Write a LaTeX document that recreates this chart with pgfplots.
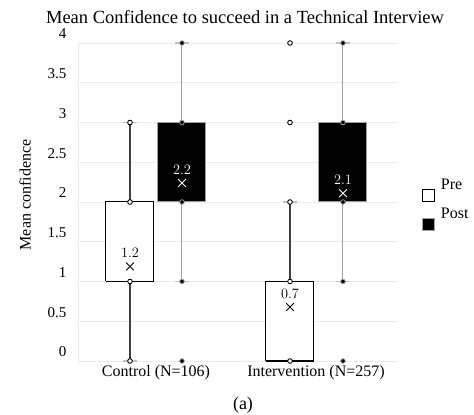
\documentclass[border=0pt]{standalone}
\usepackage{fontspec}
\setmainfont{Liberation Serif}
\usepackage{pgfplots}
\pgfplotsset{compat=1.18}
\definecolor{gridc}{HTML}{E8EDF4}
\definecolor{whiskpre}{HTML}{404040}
\definecolor{postgray}{HTML}{A0A0A0}
\definecolor{capc}{HTML}{C0C0C0}
\begin{document}
\begin{tikzpicture}
\begin{axis}[
  scale only axis, width=320bp, height=318bp,
  xmin=78, xmax=398, ymin=0, ymax=4,
  ytick={0,0.5,1,1.5,2,2.5,3,3.5,4},
  yticklabels={0,0.5,1,1.5,2,2.5,3,3.5,4},
  xtick={156,316},
  xticklabels={Control (N=106),Intervention (N=257)},
  ymajorgrids, grid style={draw=gridc, line width=0.9bp},
  axis x line*=bottom, axis y line*=left,
  axis line style={-, draw=gridc, line width=0.9bp},
  major tick length=0pt, tick style={draw=none},
  yticklabel style={font=\fontsize{15bp}{17bp}\selectfont, anchor=east, xshift=-8bp, yshift=9bp},
  xticklabel style={font=\fontsize{16bp}{19bp}\selectfont, anchor=north, yshift=-1bp},
  clip=false,
  legend style={at={(rel axis cs:1.075,0.572)}, anchor=north west, draw=none, fill=none,
    font=\fontsize{16bp}{19bp}\selectfont, row sep=6bp, column sep=6bp, inner sep=0pt,
    nodes={inner sep=0pt}, cells={anchor=west}},
]
% whiskers (pre)
\addplot[forget plot, draw=whiskpre, line width=1.4bp] coordinates {(130,0)(130,1)};
\addplot[forget plot, draw=whiskpre, line width=1.4bp] coordinates {(130,2)(130,3)};
\addplot[forget plot, draw=whiskpre, line width=1.4bp] coordinates {(290,1)(290,2)};
% whiskers (post)
\addplot[forget plot, draw=postgray, line width=1bp] coordinates {(182,1)(182,2)};
\addplot[forget plot, draw=postgray, line width=1bp] coordinates {(182,3)(182,4)};
\addplot[forget plot, draw=postgray, line width=1bp] coordinates {(343,1)(343,2)};
\addplot[forget plot, draw=postgray, line width=1bp] coordinates {(343,3)(343,4)};
% boxes
\addplot[forget plot, draw=black, fill=white, line width=1bp] coordinates {(106,1)(154,1)(154,2)(106,2)(106,1)};
\addplot[forget plot, draw=black, line width=1.6bp] coordinates {(106,1)(154,1)};
\addplot[forget plot, draw=postgray, fill=black, line width=1bp] coordinates {(158,2)(206,2)(206,3)(158,3)(158,2)};
\addplot[forget plot, draw=black, fill=white, line width=1bp] coordinates {(266,0)(314,0)(314,1)(266,1)(266,0)};
\addplot[forget plot, draw=black, line width=1.6bp] coordinates {(266,0)(314,0)};
\addplot[forget plot, draw=postgray, fill=black, line width=1bp] coordinates {(319,2)(367,2)(367,3)(319,3)(319,2)};
% whisker caps
\addplot[forget plot, only marks, mark=-, mark size=7bp, mark options={draw=capc, line width=1.2bp}]
  coordinates {(130,0)(130,3)(182,1)(182,4)(290,2)(343,1)(343,4)};
% pre data points (open circles)
\addplot[forget plot, only marks, mark=*, mark size=2.3bp, mark options={fill=white, draw=black, line width=0.9bp}]
  coordinates {(130,0)(130,1)(130,2)(130,3)(290,0)(290,1)(290,2)(290,3)(290,4)};
% post data points (filled)
\addplot[forget plot, only marks, mark=*, mark size=2.3bp, mark options={fill=black, draw=postgray, line width=0.8bp}]
  coordinates {(182,0)(182,1)(182,2)(182,3)(182,4)(343,0)(343,1)(343,2)(343,3)(343,4)};
% means
\addplot[forget plot, only marks, mark=x, mark size=5.5bp, mark options={draw=black, line width=0.9bp},
  nodes near coords, point meta=explicit symbolic,
  every node near coord/.append style={font=\fontsize{14bp}{16bp}\selectfont, text=black, yshift=5bp}]
  coordinates {(130,1.19)[$1.2$] (290,0.68)[$0.7$]};
\addplot[forget plot, only marks, mark=x, mark size=5.5bp, mark options={draw=white, line width=0.9bp},
  nodes near coords, point meta=explicit symbolic,
  every node near coord/.append style={font=\fontsize{14bp}{16bp}\selectfont, text=white, yshift=5bp}]
  coordinates {(182,2.24)[$2.2$] (343,2.11)[$2.1$]};
% legend
\addlegendimage{legend image code/.code={\draw[draw=black, fill=white, line width=0.8bp] (0bp,-16.5bp) rectangle (12bp,-4.5bp);}}
\addlegendentry{Pre}
\addlegendimage{legend image code/.code={\draw[draw=postgray, fill=black, line width=0.8bp] (0bp,-16.5bp) rectangle (12bp,-4.5bp);}}
\addlegendentry{Post}
\end{axis}
\node[font=\fontsize{18.5bp}{21bp}\selectfont] at (167bp,344bp) {Mean Confidence to succeed in a Technical Interview};
\node[font=\fontsize{16bp}{19bp}\selectfont, rotate=90] at (-53bp,166bp) {Mean confidence};
\node[font=\fontsize{18bp}{21bp}\selectfont] at (165bp,-44bp) {(a)};
\pgfresetboundingbox
\path (-78bp,-54bp) rectangle (396bp,361bp);
\end{tikzpicture}
\end{document}
